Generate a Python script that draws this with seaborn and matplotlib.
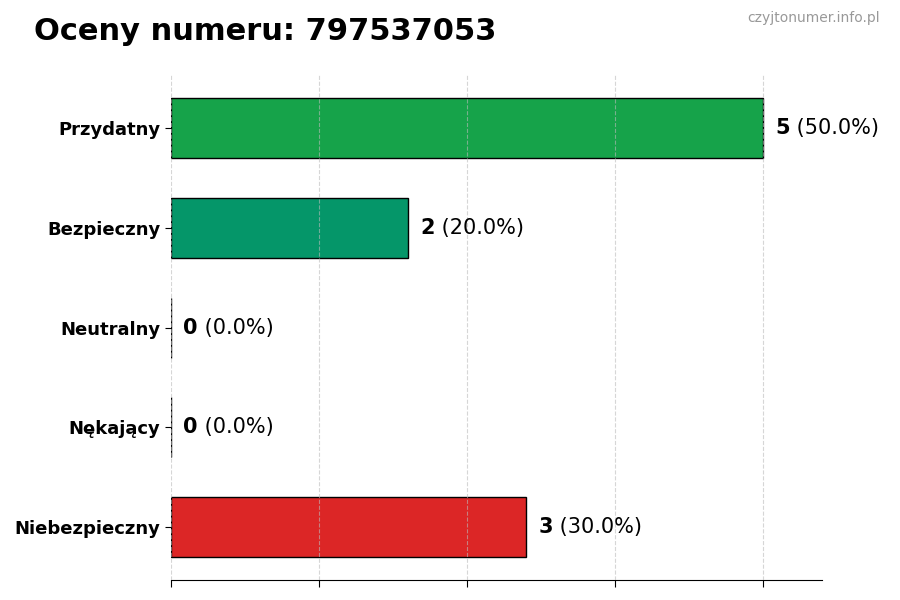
import numpy as np
import matplotlib
matplotlib.use("Agg")
import matplotlib.pyplot as plt
import seaborn as sns
import pandas as pd

# data
categories = ["Przydatny", "Bezpieczny", "Neutralny", "Nękający", "Niebezpieczny"]
counts = [5, 2, 0, 0, 3]
colors = ["#16a34a", "#059669", "#6b7280", "#ea580c", "#dc2626"]
phone = "797537053"

total = sum(counts)
df = pd.DataFrame({"kategoria": categories, "liczba": counts})

plt.rcParams["font.family"] = ["DejaVu Sans"]

fig = plt.figure(figsize=(9, 6), dpi=100)
ax = fig.add_axes([0.19, 0.033, 0.723, 0.842])

sns.barplot(data=df, x="liczba", y="kategoria", hue="kategoria",
            palette=dict(zip(categories, colors)), orient="h", saturation=1,
            width=0.6, edgecolor="black", linewidth=1, legend=False, ax=ax)

ax.set_xlim(0, max(counts) * 1.1)
ax.set_ylim(len(categories) - 0.47, -0.53)
ax.set_xticks(np.linspace(0, max(counts), 5))
ax.set_xticklabels([])
ax.set_xlabel("")
ax.set_ylabel("")
ax.tick_params(axis="y", left=True, length=4, labelsize=13)
ax.tick_params(axis="x", bottom=True, length=5)
for lbl in ax.get_yticklabels():
    lbl.set_fontweight("bold")
ax.grid(axis="x", linestyle="--", color="#bbbbbb", alpha=0.6, linewidth=0.8)
ax.set_axisbelow(False)
for s in ["top", "right", "left"]:
    ax.spines[s].set_visible(False)

# value labels: bold count then share in brackets
for i, c in enumerate(counts):
    pct = c / total * 100
    t = ax.annotate(f"{c}", xy=(c, i), xytext=(9, 0), textcoords="offset points",
                    va="center", ha="left", fontsize=15, fontweight="bold")
    ax.annotate(f" ({pct:.1f}%)", xy=(1, 0.5), xycoords=t,
                va="center", ha="left", fontsize=15)

fig.text(0.038, 0.948, f"Oceny numeru: {phone}", fontsize=22, fontweight="bold",
         ha="left", va="center")
fig.text(0.978, 0.97, "czyjtonumer.info.pl", fontsize=10, color="#999999",
         ha="right", va="center")

fig.savefig("out.png", dpi=100)
